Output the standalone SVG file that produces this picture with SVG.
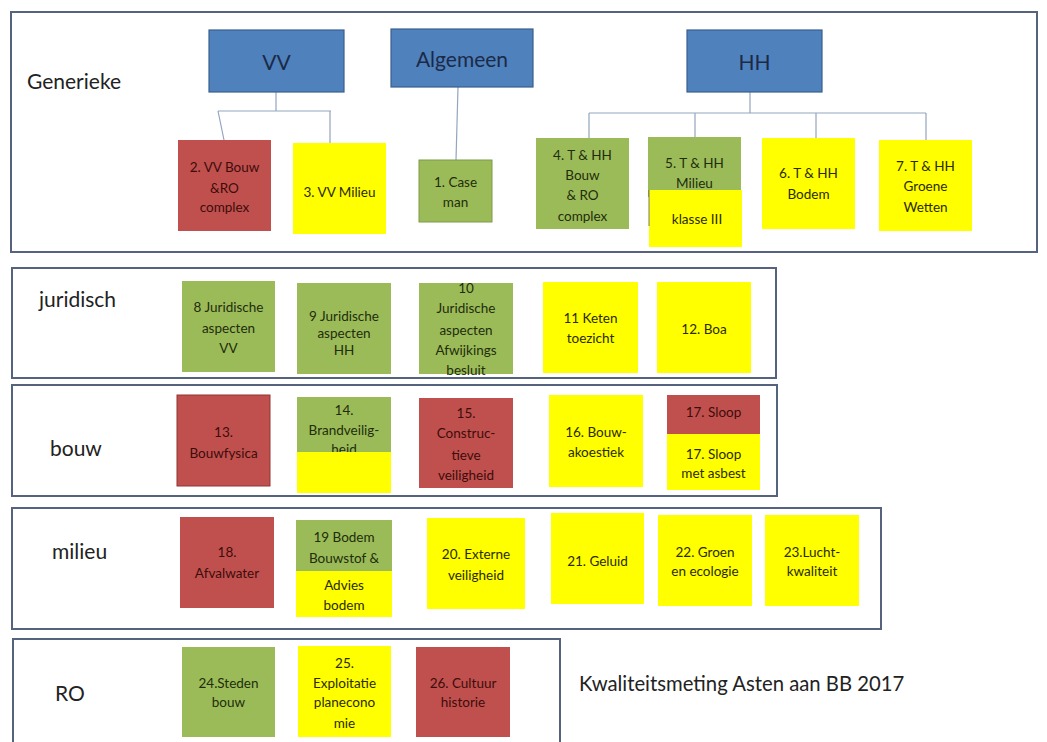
<svg xmlns="http://www.w3.org/2000/svg" width="1047" height="742" viewBox="0 0 1047 742">
<style>
text{font-family:Lato,"Open Sans","Liberation Sans",sans-serif;}
.frame{fill:none;stroke:#56637f;stroke-width:2;}
.hdr{fill:#4F81BD;stroke:#3a5f8f;stroke-width:1.2;}
.hdrt{font-size:21px;fill:#1b2a47;text-anchor:middle;dominant-baseline:central;}
.lbl{font-size:21px;fill:#222;dominant-baseline:central;}
.ttl{font-size:20.3px;fill:#222;dominant-baseline:central;}
.r{fill:#C0504D;}
.g{fill:#9BBB59;}
.y{fill:#FFFF00;}
.t{font-size:13.5px;text-anchor:middle;dominant-baseline:central;}
.tr{fill:#3d0c0c;}
.tg{fill:#1f2d0b;}
.ty{fill:#2b2b00;}
.con{fill:none;stroke:#93a5bf;stroke-width:1.2;}
</style>
<rect x="0" y="0" width="1047" height="742" fill="#ffffff"/>

<g id="frames">
<rect class="frame" x="11" y="12" width="1026" height="240"/>
<rect class="frame" x="12" y="268" width="764" height="110"/>
<rect class="frame" x="12" y="385" width="765" height="111"/>
<rect class="frame" x="12" y="508" width="869" height="121"/>
<rect class="frame" x="13" y="639" width="547" height="110"/>
</g>

<g id="labels">
<text class="lbl" x="27" y="80">Generieke</text>
<text class="lbl" x="39" y="298">juridisch</text>
<text class="lbl" x="50" y="447">bouw</text>
<text class="lbl" x="52" y="550">milieu</text>
<text class="lbl" x="55" y="692">RO</text>
<text class="ttl" x="579" y="683">Kwaliteitsmeting Asten aan BB 2017</text>
</g>

<g id="connectors">
<path class="con" d="M276 92 V111 M218 111 H331 M218 111 L224 140 M330 111 V143"/>
<path class="con" d="M458 87 L456 160"/>
<path class="con" d="M750 92 V113 M589 113 H926 M589 113 V138 M695 113 V137 M816 113 V139 M926 113 V140"/>
</g>

<g id="n-vv"><rect class="hdr" x="209" y="30" width="135" height="62"/><text class="hdrt" x="276.5" y="61">VV</text></g>
<g id="n-algemeen"><rect class="hdr" x="391" y="29" width="142" height="58"/><text class="hdrt" x="462" y="58">Algemeen</text></g>
<g id="n-hh"><rect class="hdr" x="687" y="30" width="135" height="62"/><text class="hdrt" x="754.5" y="61">HH</text></g>

<g id="n2"><rect class="r" x="178" y="140" width="93" height="91"/>
<text class="t tr" x="224.5" y="167">2. VV Bouw</text><text class="t tr" x="224.5" y="188">&amp;RO</text><text class="t tr" x="224.5" y="207">complex</text></g>
<g id="n3"><rect class="y" x="293" y="143" width="93" height="91"/>
<text class="t ty" x="339.5" y="192">3. VV Milieu</text></g>
<g id="n1"><rect class="g" x="419" y="160" width="73" height="62" stroke="#7f9a48" stroke-width="1"/>
<text class="t tg" x="455.5" y="182">1. Case</text><text class="t tg" x="455.5" y="202">man</text></g>
<g id="n4"><rect class="g" x="536" y="138" width="93" height="91"/>
<text class="t tg" x="582.5" y="155">4. T &amp; HH</text><text class="t tg" x="582.5" y="175">Bouw</text><text class="t tg" x="582.5" y="195">&amp; RO</text><text class="t tg" x="582.5" y="216">complex</text></g>
<g id="n5"><rect class="g" x="648" y="137" width="93" height="60"/>
<text class="t tg" x="694.5" y="163">5. T &amp; HH</text><text class="t tg" x="694.5" y="183">Milieu</text>
<rect class="y" x="649" y="190" width="93" height="57"/>
<line x1="649" y1="190" x2="649" y2="226" stroke="#555" stroke-width="0.8"/>
<text class="t ty" x="697" y="219">klasse III</text></g>
<g id="n6"><rect class="y" x="762" y="138" width="93" height="91"/>
<text class="t ty" x="808.5" y="173">6. T &amp; HH</text><text class="t ty" x="808.5" y="194">Bodem</text></g>
<g id="n7"><rect class="y" x="879" y="140" width="93" height="91"/>
<text class="t ty" x="925.5" y="166">7. T &amp; HH</text><text class="t ty" x="925.5" y="186">Groene</text><text class="t ty" x="925.5" y="207">Wetten</text></g>

<g id="n8"><rect class="g" x="182" y="281" width="93" height="91"/>
<text class="t tg" x="228.5" y="307">8 Juridische</text><text class="t tg" x="228.5" y="328">aspecten</text><text class="t tg" x="228.5" y="348">VV</text></g>
<g id="n9"><rect class="g" x="297" y="283" width="94" height="91"/>
<text class="t tg" x="344" y="316">9 Juridische</text><text class="t tg" x="344" y="333">aspecten</text><text class="t tg" x="344" y="350">HH</text></g>
<g id="n10"><rect class="g" x="419" y="283" width="94" height="91"/>
<text class="t tg" x="466" y="288">10</text><text class="t tg" x="466" y="308">Juridische</text><text class="t tg" x="466" y="330">aspecten</text><text class="t tg" x="466" y="350">Afwijkings</text><text class="t tg" x="466" y="370">besluit</text></g>
<g id="n11"><rect class="y" x="543" y="282" width="95" height="91"/>
<text class="t ty" x="590.5" y="318">11 Keten</text><text class="t ty" x="590.5" y="338">toezicht</text></g>
<g id="n12"><rect class="y" x="657" y="282" width="94" height="91"/>
<text class="t ty" x="704" y="329">12. Boa</text></g>

<g id="n13"><rect class="r" x="177" y="395" width="93" height="91" stroke="#8f3533" stroke-width="1"/>
<text class="t tr" x="223.5" y="432">13.</text><text class="t tr" x="223.5" y="453">Bouwfysica</text></g>
<g id="n14"><rect class="g" x="297" y="397" width="94" height="60"/>
<text class="t tg" x="344" y="410">14.</text><text class="t tg" x="344" y="430">Brandveilig-</text><text class="t tg" x="344" y="449">heid</text>
<rect class="y" x="297" y="452" width="94" height="41"/></g>
<g id="n15"><rect class="r" x="419" y="398" width="94" height="90"/>
<text class="t tr" x="466" y="413">15.</text><text class="t tr" x="466" y="433">Construc-</text><text class="t tr" x="466" y="455">tieve</text><text class="t tr" x="466" y="475">veiligheid</text></g>
<g id="n16"><rect class="y" x="549" y="395" width="94" height="92"/>
<text class="t ty" x="596" y="432">16. Bouw-</text><text class="t ty" x="596" y="452">akoestiek</text></g>
<g id="n17"><rect class="r" x="667" y="395" width="93" height="39"/>
<text class="t tr" x="713.5" y="412">17. Sloop</text>
<rect class="y" x="667" y="434" width="93" height="56"/>
<text class="t ty" x="713.5" y="454">17. Sloop</text><text class="t ty" x="713.5" y="473">met  asbest</text></g>

<g id="n18"><rect class="r" x="180" y="517" width="94" height="91"/>
<text class="t tr" x="227" y="552">18.</text><text class="t tr" x="227" y="573">Afvalwater</text></g>
<g id="n19"><rect class="g" x="296" y="520" width="96" height="51"/>
<text class="t tg" x="344" y="537">19 Bodem</text><text class="t tg" x="344" y="558">Bouwstof &amp;</text>
<rect class="y" x="296" y="571" width="96" height="46"/>
<text class="t ty" x="344" y="585">Advies</text><text class="t ty" x="344" y="605">bodem</text></g>
<g id="n20"><rect class="y" x="427" y="518" width="98" height="91"/>
<text class="t ty" x="476" y="554">20. Externe</text><text class="t ty" x="476" y="575">veiligheid</text></g>
<g id="n21"><rect class="y" x="551" y="513" width="93" height="91"/>
<text class="t ty" x="597.5" y="561">21. Geluid</text></g>
<g id="n22"><rect class="y" x="658" y="515" width="94" height="91"/>
<text class="t ty" x="705" y="552">22. Groen</text><text class="t ty" x="705" y="571">en ecologie</text></g>
<g id="n23"><rect class="y" x="765" y="515" width="94" height="91"/>
<text class="t ty" x="812" y="552">23.Lucht-</text><text class="t ty" x="812" y="571">kwaliteit</text></g>

<g id="n24"><rect class="g" x="182" y="647" width="93" height="90"/>
<text class="t tg" x="228.5" y="683">24.Steden</text><text class="t tg" x="228.5" y="702">bouw</text></g>
<g id="n25"><rect class="y" x="298" y="646" width="93" height="91"/>
<text class="t ty" x="344.5" y="663">25.</text><text class="t ty" x="344.5" y="683">Exploitatie</text><text class="t ty" x="344.5" y="702">planecono</text><text class="t ty" x="344.5" y="723">mie</text></g>
<g id="n26"><rect class="r" x="416" y="647" width="94" height="90"/>
<text class="t tr" x="463" y="683">26. Cultuur</text><text class="t tr" x="463" y="702">historie</text></g>
</svg>
